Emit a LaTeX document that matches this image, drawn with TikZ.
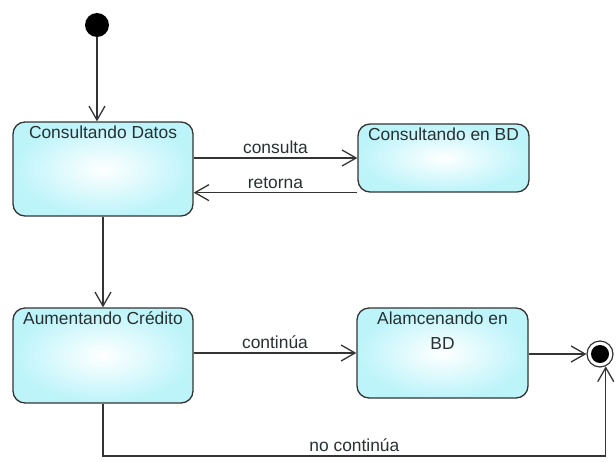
\documentclass[tikz,border=0pt]{standalone}
\usepackage{fontspec}
\setmainfont{Liberation Sans}
\usepackage{xcolor}
\definecolor{stcyan}{RGB}{188,244,250}
\definecolor{stedge}{RGB}{52,52,52}
\definecolor{sttext}{RGB}{40,48,50}
\usepackage{tikz}
\usetikzlibrary{arrows.meta,positioning,calc}

\begin{document}
\begin{tikzpicture}[x=1pt,y=-1pt]
  \tikzset{state/.style={rectangle, rounded corners=12pt, draw=stedge, line width=1.3pt,
      shade, inner color=white, outer color=stcyan, inner ysep=4pt, text height=12.6pt,
      text=sttext, font=\fontsize{17.4}{25}\selectfont},
    trans/.style={draw=stedge, line width=1.3pt, -{Straight Barb[length=14pt,width=16pt]}},
    tlabel/.style={above, text=sttext, font=\fontsize{17.4}{25}\selectfont}}
  \useasboundingbox (0,0) rectangle (616,461);
  % Initial and final
  \node[circle, fill=black, minimum size=24pt, inner sep=0pt] (init) at (97,25) {};
  \node[circle, draw=stedge, fill=white, line width=1.2pt, minimum size=26pt, inner sep=0pt,
    path picture={\fill[black] (path picture bounding box.center) circle (9pt);}] (final) at (600,354) {};
  % Row 1
  \node[state, minimum width=180pt, text depth=73.4pt] (datos) at (103,169) {Consultando Datos};
  \node[state, minimum width=171pt, text depth=47.4pt] (bd) at (443.5,158) {Consultando en BD};
  % Row 2
  \node[state, minimum width=180pt, text depth=74.4pt] (cred) at (103,355.5) {Aumentando Crédito};
  \node[state, minimum width=171pt, align=center, text height=37.6pt, text depth=44.4pt]
    (alm) at (442.5,353) {Alamcenando en\\BD};
  % Transitions
  \draw[trans] (init) -- (init |- datos.north);
  \draw[trans] (datos.east |- bd.west) -- node[tlabel] {consulta} (bd.west);
  \draw[trans] (bd.south west) -- node[tlabel] {retorna} (datos.east |- bd.south west);
  \draw[trans] (datos.south) -- (cred.north);
  \draw[trans] (cred.east |- alm.west) -- node[tlabel] {continúa} (alm.west);
  \draw[trans] (alm.east |- final) -- (final);
  \coordinate (bottom) at (0,456);
  \draw[trans] (cred.south) -- (cred.south |- bottom) -| node[tlabel, pos=0.25] {no continúa} (final.-65);
\end{tikzpicture}
\end{document}
